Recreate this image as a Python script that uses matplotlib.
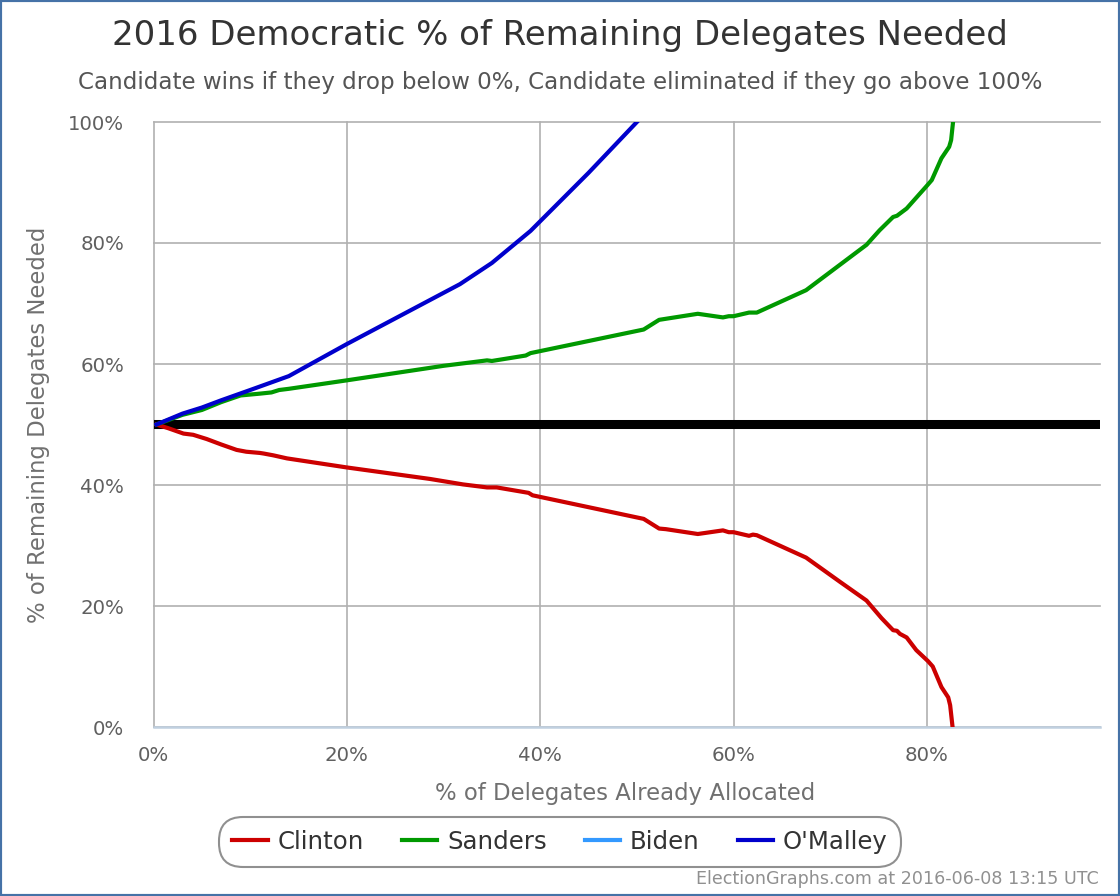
import matplotlib
matplotlib.use("Agg")
import matplotlib.pyplot as plt
from matplotlib.patches import Rectangle

W, H = 1120, 896

clinton_x = [0.3, 1.5, 3.1, 4.1, 5.5, 7, 8.6, 9.6, 11.0, 11.4, 12.4, 13.8, 20, 28.6, 32, 34.5, 35.5, 38.8, 39.2,
             50.7, 52.3, 53, 56.3, 58.9, 59.5, 60, 61.6, 62, 62.4, 67.5, 71, 73.75, 75.3, 76.5, 76.9, 77.2,
             77.9, 78.9, 80.1, 80.6, 81.5, 82.2, 82.4, 82.65]
clinton_y = [50, 49.4, 48.5, 48.3, 47.6, 46.7, 45.8, 45.5, 45.3, 45.2, 44.9, 44.4, 42.9, 41, 40.1, 39.6, 39.6, 38.7, 38.3,
             34.4, 32.8, 32.7, 31.9, 32.5, 32.2, 32.2, 31.6, 31.8, 31.7, 28, 24, 20.9, 18, 16, 15.9, 15.4,
             14.8, 12.7, 10.9, 10, 6.6, 4.9, 3.6, 0]

sanders_x = [0.3, 3, 5, 7, 9, 11, 12.2, 13, 14, 20, 30, 32, 34.5, 35, 38.5, 39, 50.7, 52.3, 53.5, 56.3, 58.9, 59.5,
             60, 61.6, 62.4, 67.5, 73.75, 75.1, 76.5, 76.9, 77.9, 79.96, 80.5, 81.5, 82.3, 82.5, 82.7]
sanders_y = [50, 51.6, 52.4, 53.7, 54.8, 55.1, 55.3, 55.7, 55.9, 57.3, 59.7, 60.1, 60.6, 60.5, 61.4, 61.8, 65.7, 67.3, 67.6, 68.3, 67.7, 67.9,
             67.9, 68.5, 68.5, 72.2, 79.7, 82.1, 84.3, 84.5, 85.7, 89.4, 90.4, 94, 95.9, 97, 100]

biden_x = []
biden_y = []

omalley_x = [0.3, 3, 5, 7, 10, 14, 20, 31.7, 35, 39, 45, 50]
omalley_y = [50, 51.8, 52.8, 54, 55.7, 58, 63.3, 73.2, 76.7, 82, 91.6, 100]

x_ticks = [0, 20, 40, 60, 80]
y_ticks = [0, 20, 40, 60, 80, 100]

fig = plt.figure(figsize=(W / 100, H / 100), dpi=100)
ax = fig.add_axes([153.5 / W, 1 - 727 / H, (1100 - 153.5) / W, (727 - 122) / H])

ax.set_xlim(0, 97.9)
ax.set_ylim(0, 100)
ax.set_xticks(x_ticks)
ax.set_yticks(y_ticks)
ax.set_xticklabels([f"{t}%" for t in x_ticks])
ax.set_yticklabels([f"{t}%" for t in y_ticks])
ax.tick_params(length=0, labelsize=14.2, labelcolor="#606060")
ax.tick_params(axis="x", pad=14)
ax.tick_params(axis="y", pad=21)
ax.grid(True, color="#b0b0b0", linewidth=1.2, zorder=1)
ax.set_axisbelow(True)
for line in ax.get_xgridlines() + ax.get_ygridlines():
    line.set_clip_on(False)
for s in ["top", "right", "left"]:
    ax.spines[s].set_visible(False)
ax.spines["bottom"].set_color("#C0D0E0")
ax.spines["bottom"].set_linewidth(1.8)
ax.spines["bottom"].set_zorder(2.5)

ax.axhline(50, color="black", linewidth=6.5, zorder=2)
ax.plot(clinton_x, clinton_y, color="#cc0000", linewidth=3, label="Clinton", zorder=3)
ax.plot(sanders_x, sanders_y, color="#009900", linewidth=3, label="Sanders", zorder=3)
ax.plot(biden_x, biden_y, color="#3399ff", linewidth=3, label="Biden", zorder=3)
ax.plot(omalley_x, omalley_y, color="#0000cc", linewidth=3, label="O'Malley", zorder=3)

fig.text(560 / W, 1 - 35 / H, "2016 Democratic % of Remaining Delegates Needed",
         fontsize=24.5, color="#333333", ha="center", va="center")
fig.text(560 / W, 1 - 82 / H, "Candidate wins if they drop below 0%, Candidate eliminated if they go above 100%",
         fontsize=16.6, color="#555555", ha="center", va="center")
fig.text(625 / W, 1 - 793 / H, "% of Delegates Already Allocated",
         fontsize=16.4, color="#707070", ha="center", va="center")
fig.text(39 / W, 1 - 425 / H, "% of Remaining Delegates Needed",
         fontsize=16.4, color="#707070", ha="center", va="center", rotation=90)
fig.text(1099 / W, 1 - 879 / H, "ElectionGraphs.com at 2016-06-08 13:15 UTC",
         fontsize=12.65, color="#909090", ha="right", va="center")

leg = fig.legend(loc="center", bbox_to_anchor=(560 / W, 1 - 842 / H), ncol=4, fontsize=17.6,
                 frameon=True, fancybox=True, edgecolor="#909090", facecolor="white", framealpha=1,
                 handlelength=1.45, handletextpad=0.4, columnspacing=1.55, borderpad=0.55)
leg.get_frame().set_linewidth(1.5)
leg.get_frame().set_boxstyle("round", pad=0, rounding_size=1.0)
for t in leg.get_texts():
    t.set_color("#333333")

fig.add_artist(Rectangle((0, 0), 1, 1, transform=fig.transFigure, fill=False,
                         edgecolor="#4572A7", linewidth=3))

fig.savefig("out.png", dpi=100)
